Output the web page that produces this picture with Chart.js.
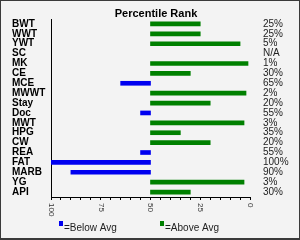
<!DOCTYPE html>
<html>
<head>
<meta charset="utf-8">
<script src="https://cdn.jsdelivr.net/npm/chart.js@4/dist/chart.umd.min.js"></script>
<style>
  html, body { margin: 0; padding: 0; background: #f3f3f3; }
  #wrap { position: relative; width: 300px; height: 240px; }
  #frame { position: absolute; left: 0; top: 0; width: 300px; height: 240px; box-sizing: border-box;
           border: 1px solid #3a3a3a; border-bottom-width: 2px; pointer-events: none; }
</style>
</head>
<body>
<div id="wrap">
  <canvas id="rankChart" width="300" height="240"></canvas>
  <div id="frame"></div>
</div>
<script>
// traits, top to bottom
const traits = ['BWT', 'WWT', 'YWT', 'SC', 'MK', 'CE', 'MCE', 'MWWT', 'Stay', 'Doc',
                'MWT', 'HPG', 'CW', 'REA', 'FAT', 'MARB', 'YG', 'API'];
// percentile rank per trait (null = N/A)
const ranks = [25, 25, 5, null, 1, 30, 65, 2, 20, 55, 3, 35, 20, 55, 100, 90, 3, 30];
// labels shown on the right side
const rankLabels = ['25%', '25%', '5%', 'N/A', '1%', '30%', '65%', '2%', '20%', '55%',
                    '3%', '35%', '20%', '55%', '100%', '90%', '3%', '30%'];
// x axis labels
const xTickLabels = [100, 75, 50, 25, 0];
const average = 50;

const belowAvg = ranks.map(v => (v !== null && v > average) ? [average, v] : null);
const aboveAvg = ranks.map(v => (v !== null && v < average) ? [average, v] : null);

const bgPlugin = {
  id: 'bg',
  beforeDraw(chart) {
    const ctx = chart.ctx;
    ctx.save();
    ctx.fillStyle = '#f3f3f3';
    ctx.fillRect(0, 0, chart.width, chart.height);
    ctx.restore();
  }
};

// rotated x labels (read top to bottom) and the legend under the axis
const extrasPlugin = {
  id: 'extras',
  afterDraw(chart) {
    const ctx = chart.ctx;
    const sx = chart.scales.x;
    ctx.save();
    ctx.font = '8px "Liberation Sans"';
    ctx.fillStyle = '#333';
    ctx.textAlign = 'left';
    ctx.textBaseline = 'middle';
    xTickLabels.forEach(v => {
      ctx.save();
      ctx.translate(sx.getPixelForValue(v), sx.bottom + 3);
      ctx.rotate(Math.PI / 2);
      ctx.fillText(String(v), 0, 0);
      ctx.restore();
    });

    const y = 228;
    const starts = [chart.chartArea.left + 8, chart.chartArea.left + 109];
    ctx.font = '10px "Liberation Sans"';
    chart.data.datasets.forEach((ds, i) => {
      const x = starts[i];
      ctx.fillStyle = ds.backgroundColor;
      ctx.fillRect(x, y - 7, 4, 5);
      ctx.fillStyle = '#222';
      ctx.fillText(ds.label, x + 5, y);
    });
    ctx.restore();
  }
};

new Chart(document.getElementById('rankChart'), {
  type: 'bar',
  data: {
    labels: traits,
    datasets: [
      { label: '=Below Avg', data: belowAvg, backgroundColor: '#0000f0', grouped: false, barThickness: 4 },
      { label: '=Above Avg', data: aboveAvg, backgroundColor: '#008000', grouped: false, barThickness: 4 }
    ]
  },
  options: {
    indexAxis: 'y',
    responsive: false,
    animation: false,
    layout: { padding: { left: 12, right: 0, top: 5, bottom: 40 } },
    plugins: {
      legend: { display: false },
      tooltip: { enabled: false },
      title: {
        display: true,
        text: 'Percentile Rank',
        color: '#000',
        font: { family: 'Liberation Sans', size: 11, weight: 'bold' },
        padding: { top: 0, bottom: -2 }
      }
    },
    scales: {
      x: {
        type: 'linear',
        min: 0,
        max: 100,
        reverse: true,
        ticks: { stepSize: 5, display: false },
        grid: { drawOnChartArea: false, drawTicks: true, tickLength: 3, color: '#000' },
        border: { display: true, color: '#000' }
      },
      y: {
        position: 'left',
        grid: { display: false },
        border: { display: true, color: '#000' },
        ticks: { crossAlign: 'far', color: '#000', autoSkip: false,
                 font: { family: 'Liberation Sans', size: 10, weight: 'bold' } },
        afterFit(scale) { scale.width = 39; }
      },
      y2: {
        type: 'category',
        labels: rankLabels,
        position: 'right',
        offset: true,
        grid: { display: false, drawTicks: false },
        border: { display: false },
        ticks: { crossAlign: 'near', padding: 13, color: '#222', autoSkip: false,
                 font: { family: 'Liberation Sans', size: 10 } },
        afterFit(scale) { scale.width = 50; }
      }
    }
  },
  plugins: [bgPlugin, extrasPlugin]
});
</script>
</body>
</html>
